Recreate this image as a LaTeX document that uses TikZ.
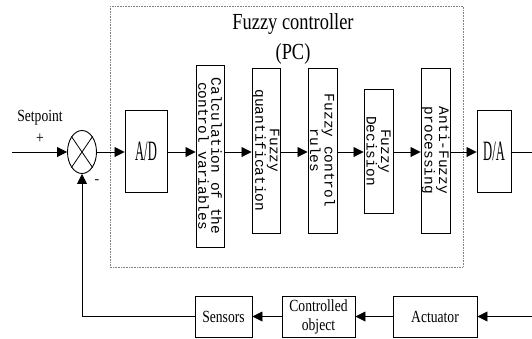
\documentclass[tikz,border=0pt]{standalone}
\usepackage{fontspec}
\setmainfont{Liberation Serif}
\newfontfamily\labfont{Liberation Serif}[FakeStretch=0.8]
\newfontfamily\convfont{Liberation Serif}[FakeStretch=0.45]
\newfontfamily\vertfont{Liberation Mono}
\usetikzlibrary{arrows.meta,shapes.geometric}
\begin{document}
\begin{tikzpicture}[x=1pt, y=-1pt,
        blk/.style = {draw, line width=0.9pt, inner sep=0pt},
        vtext/.style = {rotate=-90, align=center, font=\vertfont\fontsize{14.5}{13}\selectfont},
        htext/.style = {font=\labfont\fontsize{17}{19}\selectfont},
        arr/.style = {-{Triangle[length=10pt, width=10pt]}, line width=0.8pt},
        wire/.style = {line width=0.8pt}]
    \useasboundingbox (0,0) rectangle (532,338);
    % controller frame
    \draw[densely dotted, gray, line width=0.6pt] (110,6) rectangle (463,267);
    \node[align=center, font=\labfont\fontsize{23}{30}\selectfont] (title) at (293,38.5) {Fuzzy controller\\(PC)};
    % forward path
    \node[draw, ellipse, line width=0.9pt, minimum width=29pt, minimum height=43pt, inner sep=0pt] (sum) at (82,152) {};
    \draw[wire] (sum.north west) -- (sum.south east);
    \draw[wire] (sum.north east) -- (sum.south west);
    \node[blk, minimum width=42pt, minimum height=82pt] (ad) at (146,151) {};
    \node[font=\convfont\fontsize{28}{30}\selectfont] at (ad) {A/D};
    \node[blk, minimum width=28pt, minimum height=182pt] (calc) at (210,156) {};
    \node[vtext] at (calc) {Calculation of the\\control variables};
    \node[blk, minimum width=28pt, minimum height=165pt] (quant) at (266,150.5) {};
    \node[vtext] at (quant) {Fuzzy\\quantification};
    \node[blk, minimum width=29pt, minimum height=165pt] (rules) at (322.5,150.5) {};
    \node[vtext] at (rules) {Fuzzy control\\rules};
    \node[blk, minimum width=29pt, minimum height=124pt] (dec) at (378.5,151) {};
    \node[vtext] at (dec) {Fuzzy\\Decision};
    \node[blk, minimum width=29pt, minimum height=165pt] (anti) at (435.5,150.5) {};
    \node[vtext] at (anti) {Anti-Fuzzy\\processing};
    \node[blk, minimum width=34pt, minimum height=82pt] (da) at (494,151) {};
    \node[font=\convfont\fontsize{28}{30}\selectfont] at (da) {D/A};
    % feedback path
    \node[blk, htext, minimum width=57pt, minimum height=41pt] (sens) at (223.5,316.5) {Sensors};
    \node[blk, htext, align=center, minimum width=73pt, minimum height=41pt] (plant) at (318.5,316.5) {Controlled\\object};
    \node[blk, htext, minimum width=84pt, minimum height=41pt] (act) at (435,316.5) {Actuator};
    \coordinate (in) at (12,152);
    \coordinate (out) at (532,152);
    \coordinate (back) at (532,316.5);
    \coordinate (corner) at (82,316.5);
    % labels
    \node[htext] (setp) at (40,118) {Setpoint};
    \node[htext] (plus) at (40,139) {+};
    \node[font=\fontsize{14}{16}\selectfont] (minus) at (97,182) {-};
    % connectors
    \draw[arr] (in) -- (sum.west);
    \draw[arr] (sum.east) -- (sum.east -| ad.west);
    \draw[arr] (ad.east |- 0,152) -- (calc.west |- 0,152);
    \draw[arr] (calc.east |- 0,152) -- (quant.west |- 0,152);
    \draw[arr] (quant.east |- 0,152) -- (rules.west |- 0,152);
    \draw[arr] (rules.east |- 0,152) -- (dec.west |- 0,152);
    \draw[arr] (dec.east |- 0,152) -- (anti.west |- 0,152);
    \draw[arr] (anti.east |- 0,152) -- (da.west |- 0,152);
    \draw[wire] (da.east |- 0,152) -- (out);
    \draw[arr] (back) -- (act.east);
    \draw[arr] (act.west) -- (plant.east);
    \draw[arr] (plant.west) -- (sens.east);
    \draw[arr] (sens.west) -- (corner) -- (sum.south);
\end{tikzpicture}
\end{document}
